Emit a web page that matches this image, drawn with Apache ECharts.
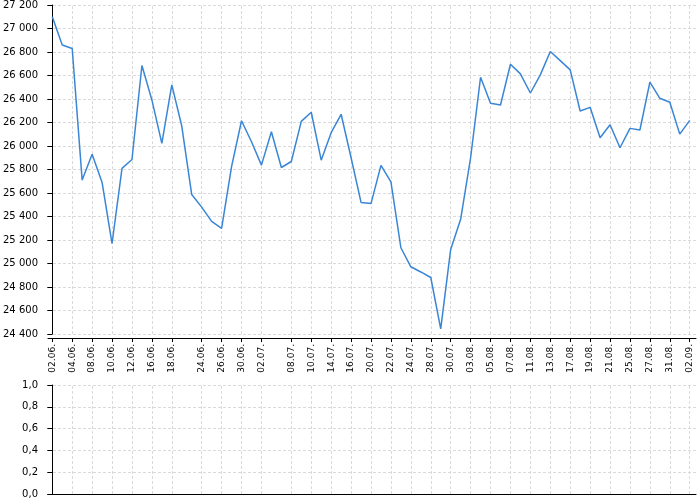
<!DOCTYPE html>
<html>
<head>
<meta charset="utf-8">
<script src="https://cdn.jsdelivr.net/npm/echarts@6/dist/echarts.min.js"></script>
<style>html,body{margin:0;padding:0;background:#fff}#c{width:700px;height:500px}</style>
</head>
<body>
<div id="c"></div>
<script>
var dates = ["02.06.","03.06.","04.06.","05.06.","08.06.","09.06.","10.06.","11.06.","12.06.","15.06.",
"16.06.","17.06.","18.06.","19.06.","22.06.","24.06.","25.06.","26.06.","29.06.","30.06.",
"01.07.","02.07.","06.07.","07.07.","08.07.","09.07.","10.07.","13.07.","14.07.","15.07.",
"16.07.","17.07.","20.07.","21.07.","22.07.","23.07.","24.07.","27.07.","28.07.","29.07.",
"30.07.","31.07.","03.08.","04.08.","05.08.","06.08.","07.08.","10.08.","11.08.","12.08.",
"13.08.","14.08.","17.08.","18.08.","19.08.","20.08.","21.08.","24.08.","25.08.","26.08.",
"27.08.","28.08.","31.08.","01.09.","02.09."];
var prices = [27100,26860,26830,25710,25930,25690,25170,25810,25885,26685,
26392,26022,26520,26170,25587,25480,25358,25298,25825,26215,
26036,25837,26121,25817,25868,26210,26287,25879,26113,26270,
25900,25520,25510,25835,25694,25134,24972,24928,24881,24443,
25120,25376,25900,26585,26363,26349,26696,26614,26451,26605,
26804,26727,26648,26298,26329,26070,26181,25985,26150,26136,
26543,26406,26372,26101,26218];
var tickDates = ["02.06.","04.06.","08.06.","10.06.","12.06.","16.06.","18.06.","24.06.","26.06.","30.06.",
"02.07.","08.07.","10.07.","14.07.","16.07.","20.07.","22.07.","24.07.","28.07.","30.07.",
"03.08.","05.08.","07.08.","11.08.","13.08.","17.08.","19.08.","21.08.","25.08.","27.08.",
"31.08.","02.09."];
var priceTicks = [24400, 27200, 200];
var volTicks = [0, 1, 0.2];

var tickIdx = tickDates.map(function (d) { return dates.indexOf(d); });
var seriesData = prices.map(function (v, i) { return [i, v]; });
var FONT = 'DejaVu Sans';
var GRID_COLOR = '#dadada';
var gridLine = { show: true, lineStyle: { color: GRID_COLOR, type: [3, 2], width: 1 } };
var xMin = -0.43, xMax = dates.length - 1 + 0.63;

function fmtThousands(v) {
  return String(Math.round(v)).replace(/\B(?=(\d{3})+(?!\d))/g, ' ');
}
function vGrid(xi, yi) {
  return {
    type: 'line', xAxisIndex: xi, yAxisIndex: yi, data: [], silent: true, z: 0,
    markLine: {
      silent: true, symbol: ['none', 'none'], animation: false, z: 0,
      label: { show: false },
      lineStyle: { color: GRID_COLOR, type: [3, 2], width: 1 },
      emphasis: { disabled: true },
      data: tickIdx.map(function (i) { return { xAxis: i }; })
    }
  };
}

var chart = echarts.init(document.getElementById('c'), null, { renderer: 'canvas' });
chart.setOption({
  animation: false,
  grid: [
    { left: 48, right: 4, top: 5, bottom: 166, containLabel: false },
    { left: 48, right: 4, top: 385, bottom: 6, containLabel: false }
  ],
  xAxis: [
    {
      type: 'value', gridIndex: 0, min: xMin, max: xMax, offset: 4,
      axisLine: { show: true, onZero: false, lineStyle: { color: '#000', width: 1 } },
      axisTick: { show: true, length: 4, customValues: tickIdx, lineStyle: { color: '#000' } },
      axisLabel: {
        show: true, rotate: 90, margin: 6, customValues: tickIdx,
        fontFamily: FONT, fontSize: 9, color: '#000',
        formatter: function (v) { return dates[Math.round(v)] || ''; }
      },
      splitLine: { show: false }
    },
    {
      type: 'value', gridIndex: 1, min: xMin, max: xMax,
      axisLine: { show: true, onZero: false, lineStyle: { color: '#000', width: 1 } },
      axisTick: { show: false },
      axisLabel: { show: false },
      splitLine: { show: false }
    }
  ],
  yAxis: [
    {
      type: 'value', gridIndex: 0, min: priceTicks[0], max: priceTicks[1], interval: priceTicks[2], offset: 4,
      axisLine: { show: true, lineStyle: { color: '#000', width: 1 } },
      axisTick: { show: true, length: 5, lineStyle: { color: '#000' } },
      axisLabel: { fontFamily: FONT, fontSize: 10, color: '#000', margin: 6, formatter: fmtThousands },
      splitLine: gridLine
    },
    {
      type: 'value', gridIndex: 1, min: volTicks[0], max: volTicks[1], interval: volTicks[2], offset: 4,
      axisLine: { show: true, lineStyle: { color: '#000', width: 1 } },
      axisTick: { show: true, length: 5, lineStyle: { color: '#000' } },
      axisLabel: {
        fontFamily: FONT, fontSize: 10, color: '#000', margin: 6,
        formatter: function (v) { return v.toFixed(1).replace('.', ','); }
      },
      splitLine: gridLine
    }
  ],
  series: [
    vGrid(0, 0),
    vGrid(1, 1),
    {
      type: 'line', xAxisIndex: 0, yAxisIndex: 0, data: seriesData, z: 10,
      showSymbol: false, symbol: 'none',
      lineStyle: { color: '#3a86d6', width: 1.5 }
    }
  ]
});
</script>
</body>
</html>
